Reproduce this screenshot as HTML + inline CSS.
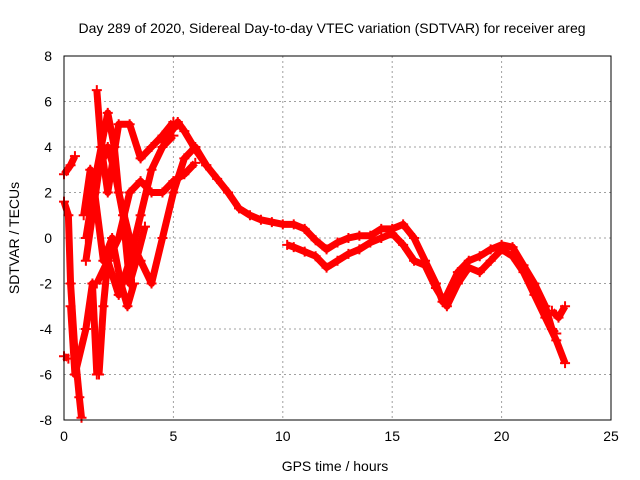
<!DOCTYPE html>
<html><head><meta charset="utf-8"><style>
body{margin:0;background:#fff}
svg{display:block;font-family:"Liberation Sans",sans-serif;font-size:14px}
</style></head><body>
<svg id="chart" width="640" height="480">
<text x="332" y="33" text-anchor="middle">Day 289 of 2020, Sidereal Day-to-day VTEC variation (SDTVAR) for receiver areg</text>
<text x="335" y="471" text-anchor="middle">GPS time / hours</text>
<text transform="translate(19,238) rotate(-90)" text-anchor="middle">SDTVAR / TECUs</text>
<g id="grid"></g><g id="ticks"></g><g id="series"></g>
<rect x="64" y="56" width="547" height="364" fill="none" stroke="#000"/>
</svg>
<script>
const xTicks=[0,5,10,15,20,25];
const yTicks=[-8,-6,-4,-2,0,2,4,6,8];
const trackA=[[4.5,4.2],[5,4.8],[5.2,5.1],[5.5,4.7],[6,3.9],[6.5,3.2],[7,2.6],[7.5,2],[8,1.3],[8.5,1],[9,0.8],[9.5,0.7],[10,0.6],[10.5,0.6],[11,0.4],[11.5,-0.1],[12,-0.5],[12.5,-0.2],[13,0],[13.5,0.1],[14,0.1],[14.5,0.4],[15,0.4],[15.5,0.6],[16,0],[16.5,-1],[17,-2],[17.3,-2.8],[17.5,-2.5],[18,-1.5],[18.5,-1],[19,-0.8],[19.5,-0.5],[20,-0.3],[20.5,-0.4],[21,-1.2],[21.5,-2],[22,-3],[22.3,-4],[22.5,-4.2]];
const trackB=[[10.2,-0.3],[10.5,-0.4],[11,-0.6],[11.5,-0.8],[12,-1.3],[12.5,-1],[13,-0.7],[13.5,-0.5],[14,-0.2],[14.5,0],[15,0.2],[15.5,-0.3],[16,-1],[16.5,-1.2],[17,-2.2],[17.5,-3],[18,-2],[18.5,-1.3],[19,-1.5],[19.5,-1],[20,-0.5],[20.5,-0.8],[21,-1.5],[21.5,-2.5],[22,-3.5],[22.5,-4.5],[22.9,-5.5]];
const trackC=[[22.3,-3.2],[22.6,-3.5],[22.9,-3]];
const trackD=[[0,-5.2],[0.2,-5.3]];
const trackE=[[0,2.8],[0.3,3.2],[0.5,3.6]];
const trackF=[[0,1.6],[0.2,1],[0.3,-2],[0.5,-5],[0.7,-7],[0.8,-7.9]];
const trackG=[[0.3,-3],[0.5,-6],[1,-4],[1.3,-2],[1.5,-6]];
const trackH=[[1,0],[1.5,3],[2,5.5],[2.3,4],[2.5,2],[3,0],[3.5,-1],[4,-2],[4.5,0],[5,2],[5.5,3.5],[6,4],[6.5,3.2]];
const trackI=[[1.5,-2],[2,-1],[2.5,-2.5],[3,-1],[3.5,1],[4,3],[4.5,4],[5,4.5]];
const trackJ=[[1.5,6.5],[1.7,4],[2,2],[2.5,5],[3,5],[3.5,3.5],[4,4],[4.5,4.5],[5,5.1]];
const trackK=[[1.6,-6],[1.8,-3],[2,-1],[2.5,0],[3,2],[3.5,2.5],[4,2],[4.5,2],[5,2.5],[5.5,2.8],[6,3.3]];
const trackL=[[1,-1],[1.3,1],[1.6,3],[2,4],[2.3,3],[2.7,1],[3,-2],[3.3,-1],[3.7,0.5]];
const trackM=[[0.9,1],[1.2,3],[1.4,2],[1.8,-1],[2.2,0],[2.6,-2],[2.9,-3],[3.2,-2]];
const tracks=[trackA,trackB,trackC,trackD,trackE,trackF,trackG,trackH,trackI,trackJ,trackK,trackL,trackM];
const NS="http://www.w3.org/2000/svg";
const X=v=>64+v*547/25, Y=v=>238-v*364/16;
const grid=document.getElementById('grid'),tk=document.getElementById('ticks'),ser=document.getElementById('series');
function mk(tag,at,p){const e=document.createElementNS(NS,tag);for(const k in at)e.setAttribute(k,at[k]);p.appendChild(e);return e;}
xTicks.forEach(t=>{
 const g=mk('line',{x1:X(t),x2:X(t),y1:56,y2:420,stroke:'#a0a0a0','stroke-dasharray':'2,3'},grid);
 
 
 const l=mk('text',{x:X(t),y:441,'text-anchor':'middle'},tk);l.textContent=t;
 
 
});
yTicks.forEach(t=>{
 const g=mk('line',{x1:64,x2:611,y1:Y(t),y2:Y(t),stroke:'#a0a0a0','stroke-dasharray':'2,3'},grid);
 
 
 const l=mk('text',{x:52,y:Y(t)+5,'text-anchor':'end'},tk);l.textContent=t;
 
 
});
tracks.forEach(tr=>{
 const p=mk('polyline',{points:tr.map(d=>X(d[0])+','+Y(d[1])).join(' '),fill:'none',stroke:'#f00','stroke-width':7,'stroke-linejoin':'round'},ser);
 
 
 tr.forEach(d=>{
  const m=mk('path',{d:`M${X(d[0])-5},${Y(d[1])}h10M${X(d[0])},${Y(d[1])-5}v10`,stroke:'#f00','stroke-width':2},ser);
  
  
 });
});
</script>
</body></html>
